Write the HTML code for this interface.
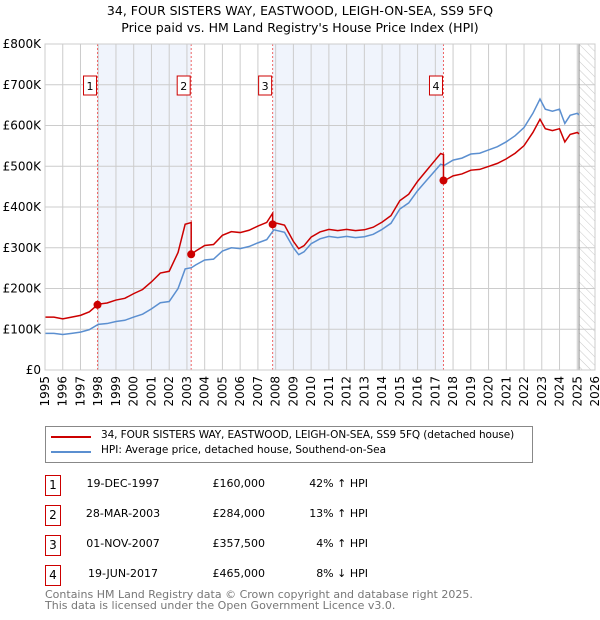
<!DOCTYPE html>
<html><head><meta charset="utf-8"><style>
body{margin:0;background:#fff;font-family:"DejaVu Sans","Liberation Sans",sans-serif;}
#wrap{position:relative;width:600px;height:620px;overflow:hidden}
.t{position:absolute;font-size:12px;color:#000;white-space:nowrap}
.box{position:absolute;width:14px;height:19px;border:1px solid #c00;font-size:12px;text-align:center;line-height:19px}
</style></head><body><div id="wrap">
<div class="t" style="left:0;width:600px;text-align:center;top:3px;font-size:12.5px">34, FOUR SISTERS WAY, EASTWOOD, LEIGH-ON-SEA, SS9 5FQ</div>
<div class="t" style="left:0;width:600px;text-align:center;top:20px;font-size:12.5px">Price paid vs. HM Land Registry's House Price Index (HPI)</div>
<svg id="chart" width="600" height="420" style="position:absolute;left:0;top:0"></svg>
<div style="position:absolute;left:45px;top:426px;width:486px;height:35px;border:1px solid #888"></div>
<div style="position:absolute;left:51px;top:436px;width:40px;height:2px;background:#c00"></div>
<div class="t" style="left:101px;top:429px;font-size:10.5px;letter-spacing:-0.1px">34, FOUR SISTERS WAY, EASTWOOD, LEIGH-ON-SEA, SS9 5FQ (detached house)</div>
<div style="position:absolute;left:51px;top:451px;width:40px;height:2px;background:#5b8fd0"></div>
<div class="t" style="left:101px;top:444px;font-size:10.5px">HPI: Average price, detached house, Southend-on-Sea</div>
<div id="rows"></div>
<div class="t" style="left:45px;top:588px;font-size:11px;color:#777">Contains HM Land Registry data © Crown copyright and database right 2025.</div>
<div class="t" style="left:45px;top:599px;font-size:11px;color:#777">This data is licensed under the Open Government Licence v3.0.</div>
</div>
<script>
const hpiYears=[1995,1995.5,1996,1996.5,1997,1997.5,1998,1998.5,1999,1999.5,2000,2000.5,2001,2001.5,2002,2002.5,2002.9,2003.25,2003.5,2004,2004.5,2005,2005.5,2006,2006.5,2007,2007.5,2007.9,2008.5,2009,2009.3,2009.6,2010,2010.5,2011,2011.5,2012,2012.5,2013,2013.5,2014,2014.5,2015,2015.5,2016,2016.5,2017,2017.3,2017.5,2018,2018.5,2019,2019.5,2020,2020.5,2021,2021.5,2022,2022.5,2022.9,2023.2,2023.6,2024,2024.3,2024.6,2025,2025.1];
const hpiValues=[90,90,87,90,93,99,112,114,119,122,130,137,150,165,168,200,248,251,258,270,272,292,300,298,303,312,320,344,338,300,283,290,310,322,328,325,328,325,327,333,345,360,395,410,440,465,490,505,502,515,520,530,532,540,548,560,575,595,630,665,640,635,640,605,625,630,626];
const saleYears=[1997.96,2003.24,2007.83,2017.46];
const salePrices=[160000,284000,357500,465000];
const saleDates=["19-DEC-1997","28-MAR-2003","01-NOV-2007","19-JUN-2017"];
const salePriceLabels=["£160,000","£284,000","£357,500","£465,000"];
const saleHpiLabels=["42% ↑ HPI","13% ↑ HPI","4% ↑ HPI","8% ↓ HPI"];
const yTicks=[0,100,200,300,400,500,600,700,800];
const yTickLabels=["£0","£100K","£200K","£300K","£400K","£500K","£600K","£700K","£800K"];
const xTicks=[1995,1996,1997,1998,1999,2000,2001,2002,2003,2004,2005,2006,2007,2008,2009,2010,2011,2012,2013,2014,2015,2016,2017,2018,2019,2020,2021,2022,2023,2024,2025,2026];

const X0=45,X1=595,Y0=370,Y1=44;
const x=y=>X0+(y-1995)/(2026-1995)*(X1-X0);
const yy=v=>Y0-v/800*(Y0-Y1);
const ns="http://www.w3.org/2000/svg";
const svg=document.getElementById('chart');
function mk(tag,attrs,parent){const e=document.createElementNS(ns,tag);for(const k in attrs)e.setAttribute(k,attrs[k]);(parent||svg).appendChild(e);return e;}
function hpiAt(t){for(let i=1;i<hpiYears.length;i++){if(t<=hpiYears[i]){const f=(t-hpiYears[i-1])/(hpiYears[i]-hpiYears[i-1]);return hpiValues[i-1]+f*(hpiValues[i]-hpiValues[i-1]);}}return hpiValues[hpiValues.length-1];}
for(let i=0;i<saleYears.length;i+=2){const r=mk('rect',{x:x(saleYears[i]),y:Y1,width:x(saleYears[i+1])-x(saleYears[i]),height:Y0-Y1,fill:'#f0f4fc'});

}
const defs=mk('defs',{});const pat=mk('pattern',{id:'h',width:6,height:6,patternUnits:'userSpaceOnUse',patternTransform:'rotate(-45)'},defs);mk('line',{x1:0,y1:0,x2:0,y2:6,stroke:'#bbb','stroke-width':0.8},pat);
const hr=mk('rect',{x:x(2025.1),y:Y1,width:X1-x(2025.1),height:Y0-Y1,fill:'url(#h)'});


xTicks.forEach(t=>{const l=mk('line',{x1:x(t),x2:x(t),y1:Y1,y2:Y0,stroke:'#ccc','stroke-width':1});


const tx=mk('text',{x:0,y:0,transform:`translate(${x(t)+4},${Y0+6}) rotate(-90)`,'text-anchor':'end','font-size':12,'font-family':'DejaVu Sans, Liberation Sans, sans-serif'});tx.textContent=t;

});
yTicks.forEach((v,i)=>{const l=mk('line',{x1:X0,x2:X1,y1:yy(v),y2:yy(v),stroke:'#ccc','stroke-width':1});


const tx=mk('text',{x:X0-4,y:yy(v)+4,'text-anchor':'end','font-size':12,'font-family':'DejaVu Sans, Liberation Sans, sans-serif'});tx.textContent=yTickLabels[i];

});
const vl=mk('line',{x1:x(2025.1),x2:x(2025.1),y1:Y1,y2:Y0,stroke:'#888','stroke-width':1});


saleYears.forEach((s,i)=>{const l=mk('line',{x1:x(s),x2:x(s),y1:Y1,y2:Y0,stroke:'#e66','stroke-width':1,'stroke-dasharray':'2,2'});


const r=mk('rect',{x:x(s)-14,y:76,width:13,height:19,fill:'#fff',stroke:'#c00'});


const tx=mk('text',{x:x(s)-7.5,y:90,'text-anchor':'middle','font-size':11,'font-family':'DejaVu Sans, sans-serif'});tx.textContent=i+1;

});
const hp=mk('polyline',{points:hpiYears.map((t,i)=>x(t)+','+yy(hpiValues[i])).join(' '),fill:'none',stroke:'#5b8fd0','stroke-width':1.5});


const ratio=saleYears.map((s,i)=>salePrices[i]/1000/hpiAt(s));
function seg(t){let k=0;for(let i=0;i<saleYears.length;i++)if(t>=saleYears[i])k=i;return k;}
const pts=[];
const allT=hpiYears.concat(saleYears).sort((a,b)=>a-b);
allT.forEach(t=>{const k=seg(t);const idx=saleYears.indexOf(t);if(idx>0)pts.push(x(t)+','+yy(hpiAt(t)*ratio[idx-1]));pts.push(x(t)+','+yy(hpiAt(t)*ratio[k]));});
const pl=mk('polyline',{points:pts.join(' '),fill:'none',stroke:'#c00','stroke-width':1.5});


saleYears.forEach((s,i)=>{const c=mk('circle',{cx:x(s),cy:yy(salePrices[i]/1000),r:4,fill:'#c00'});

});
mk('rect',{x:X0,y:Y1,width:X1-X0,height:Y0-Y1,fill:'none',stroke:'#ccc'});
const rows=document.getElementById('rows');
saleYears.forEach((s,i)=>{const top=475+i*30;
const b=document.createElement('div');b.className='box';b.style.left='45px';b.style.top=top+'px';b.textContent=i+1;

rows.appendChild(b);
const d=document.createElement('div');d.className='t';d.style.cssText=`left:83px;width:80px;text-align:center;top:${top+2}px;font-size:11px`;d.textContent=saleDates[i];

rows.appendChild(d);
const p=document.createElement('div');p.className='t';p.style.cssText=`left:185px;width:80px;text-align:right;top:${top+2}px;font-size:11px`;p.textContent=salePriceLabels[i];

rows.appendChild(p);
const h=document.createElement('div');h.className='t';h.style.cssText=`left:268px;width:100px;text-align:right;top:${top+2}px;font-size:11px`;h.textContent=saleHpiLabels[i];

rows.appendChild(h);});
</script></body></html>
